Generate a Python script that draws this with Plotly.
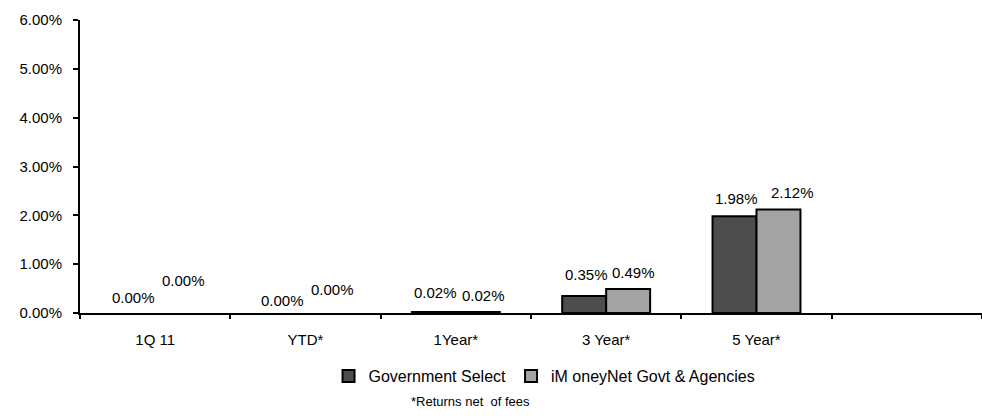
import plotly.graph_objects as go

# Periods shown on the x axis (last slot is left empty)
periods = ["1Q 11", "YTD*", "1Year*", "3 Year*", "5 Year*"]
axis_slots = periods + [" "]

# Returns in percent
gov_select = [0.00, 0.00, 0.02, 0.35, 1.98]
imoneynet = [0.00, 0.00, 0.02, 0.49, 2.12]

series_names = ["Government Select", "iM oneyNet Govt & Agencies"]
series_colors = ["#4d4d4d", "#a3a3a3"]
y_ticks = [0, 1, 2, 3, 4, 5, 6]
y_tick_text = [f"{v:.2f}%" for v in y_ticks]

# Label nudges (pixels) relative to the top-centre of each bar
bar_half = 22
gov_dx = [0, -1, 2, 2.5, 1.5]
gov_dy = [16, 13, 20, 21, 18]
imn_dx = [6, 5, 6, 5, 14]
imn_dy = [33, 24, 17, 17, 16.5]

FONT = "Liberation Sans, Arial, sans-serif"


def outline_widths(values):
    # no outline on empty bars so they don't thicken the baseline
    return [2 if v > 0 else 0 for v in values]


fig = go.Figure()
for k, (name, color, vals) in enumerate(
        zip(series_names, series_colors, [gov_select, imoneynet])):
    fig.add_trace(go.Bar(
        x=periods, y=vals, name=name, showlegend=False, legendgroup=name,
        offsetgroup=str(k), alignmentgroup="a",
        marker=dict(color=color,
                    line=dict(color="black", width=outline_widths(vals))),
    ))
# legend entries with a full outline on the swatch (share the bars' slots)
for k, (name, color) in enumerate(zip(series_names, series_colors)):
    fig.add_trace(go.Bar(
        x=[None], y=[None], name=name, legendgroup=name, showlegend=True,
        offsetgroup=str(k), alignmentgroup="a",
        marker=dict(color=color, line=dict(color="black", width=2)),
    ))

annotations = []
for i, p in enumerate(periods):
    annotations.append(dict(
        x=p, y=gov_select[i], xref="x", yref="y",
        text=f"{gov_select[i]:.2f}%", showarrow=False,
        xanchor="center", yanchor="middle",
        xshift=-bar_half + gov_dx[i], yshift=gov_dy[i],
        font=dict(family=FONT, size=15, color="black"),
    ))
    annotations.append(dict(
        x=p, y=imoneynet[i], xref="x", yref="y",
        text=f"{imoneynet[i]:.2f}%", showarrow=False,
        xanchor="center", yanchor="middle",
        xshift=bar_half + imn_dx[i], yshift=imn_dy[i],
        font=dict(family=FONT, size=15, color="black"),
    ))

annotations.append(dict(
    x=0.433, y=-0.303, xref="paper", yref="paper",
    text="*Returns net\u00a0 of fees", showarrow=False,
    xanchor="center", yanchor="middle",
    font=dict(family=FONT, size=13, color="black"),
))

fig.update_layout(
    width=982, height=418,
    margin=dict(l=80, r=0, t=20, b=105),
    paper_bgcolor="white", plot_bgcolor="white",
    barmode="group", bargap=0.415, bargroupgap=0,
    font=dict(family=FONT, size=15, color="black"),
    showlegend=True,
    legend=dict(
        orientation="h", x=0.515, xanchor="center",
        y=-0.215, yanchor="middle",
        font=dict(family=FONT, size=16, color="black"),
        itemwidth=30, tracegroupgap=0,
    ),
    annotations=annotations,
    xaxis=dict(
        type="category", categoryorder="array", categoryarray=axis_slots,
        range=[-0.5, len(axis_slots) - 0.5],
        showline=True, linecolor="black", linewidth=2,
        ticks="outside", tickson="boundaries", ticklen=4, tickwidth=2,
        tickcolor="black", ticklabelstandoff=12,
        showgrid=False, zeroline=False,
        tickfont=dict(family=FONT, size=15, color="black"),
    ),
    yaxis=dict(
        range=[0, 6], tickmode="array", tickvals=y_ticks, ticktext=y_tick_text,
        showline=True, linecolor="black", linewidth=2,
        ticks="outside", ticklen=5, tickwidth=2, tickcolor="black",
        ticklabelstandoff=8,
        showgrid=False, zeroline=False,
        tickfont=dict(family=FONT, size=15, color="black"),
    ),
)

fig.write_html("out.html")
